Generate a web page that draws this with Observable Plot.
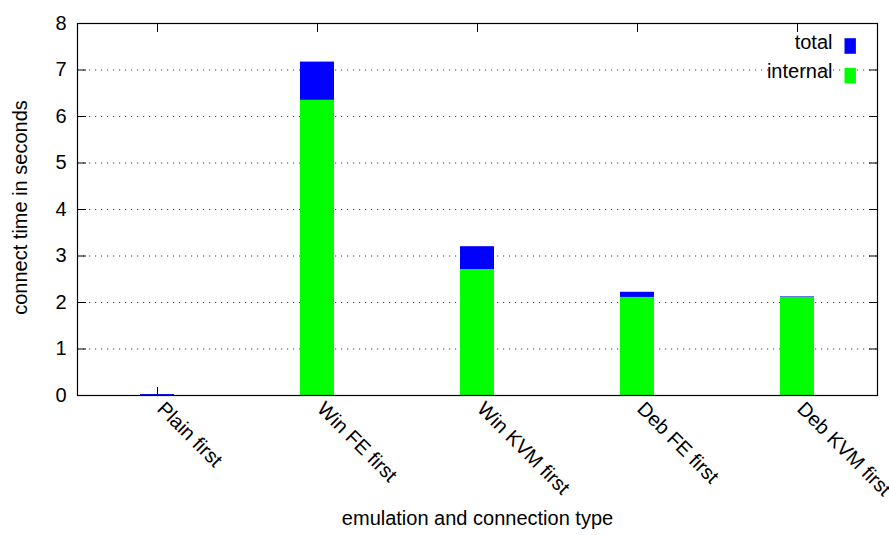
<!DOCTYPE html>
<html>
<head>
<meta charset="utf-8">
<script src="https://cdn.jsdelivr.net/npm/d3@7"></script>
<script src="https://cdn.jsdelivr.net/npm/@observablehq/plot@0.6"></script>
<style>
  html, body { margin: 0; padding: 0; background: #fff; }
  #chart svg { display: block; }
</style>
</head>
<body>
<div id="chart"></div>
<script>
// Connect times per emulation / connection type (seconds)
const categories = ["Plain first", "Win FE first", "Win KVM first", "Deb FE first", "Deb KVM first"];
const totalSeconds = [0.02, 7.17, 3.20, 2.22, 2.12];
const internalSeconds = [0.0, 6.35, 2.71, 2.11, 2.11];
const yTicks = [0, 1, 2, 3, 4, 5, 6, 7, 8];
const gridTicks = [1, 2, 3, 4, 5, 6, 7];
const seriesNames = ["total", "internal"];
const seriesColors = ["#0000ff", "#00ff00"];

const rows = categories.map((category, i) => ({
  category,
  total: totalSeconds[i],
  internal: internalSeconds[i]
}));

const fontSize = 20;

// small filled rectangle used as a legend key
const legendKey = {
  draw(context) {
    context.rect(-5.7, -7.8, 11.4, 15.6);
  }
};

const legendMarks = seriesNames.flatMap((name, i) => [
  Plot.text([name], {
    frameAnchor: "top-right",
    dx: -45,
    dy: 19 + i * 29.5,
    textAnchor: "end",
    lineAnchor: "middle",
    fill: "#000",
    fontSize
  }),
  Plot.dot([name], {
    frameAnchor: "top-right",
    dx: -27.3,
    dy: 22.5 + i * 29.7,
    symbol: legendKey,
    fill: seriesColors[i],
    stroke: "none"
  })
]);

const chart = Plot.plot({
  width: 889,
  height: 535,
  marginLeft: 77,
  marginRight: 12,
  marginTop: 23,
  marginBottom: 140,
  style: {
    fontFamily: "'Liberation Sans', Arial, Helvetica, sans-serif",
    fontSize: fontSize + "px",
    color: "#000",
    background: "#fff"
  },
  x: {
    type: "band",
    domain: categories,
    paddingInner: 0.79,
    paddingOuter: 0.395,
    align: 0.5,
    label: null,
    axis: null
  },
  y: {
    domain: [0, 8],
    label: null,
    axis: null
  },
  marks: [
    // dotted horizontal grid
    Plot.gridY(gridTicks, {
      stroke: "#000",
      strokeOpacity: 0.75,
      strokeWidth: 1,
      strokeDasharray: "1.2,4.8"
    }),
    // inward tick marks on all four sides
    Plot.axisY(yTicks, {anchor: "left", tickSize: -9, fill: "none", tickFormat: () => ""}),
    Plot.axisY(yTicks, {anchor: "right", tickSize: -9, fill: "none", tickFormat: () => ""}),
    Plot.axisX({anchor: "bottom", tickSize: -8, fill: "none", tickFormat: () => ""}),
    Plot.axisX({anchor: "top", tickSize: -8, fill: "none", tickFormat: () => ""}),
    // bars: total behind, internal in front
    Plot.barY(rows, {x: "category", y: "total", fill: seriesColors[0]}),
    Plot.barY(rows, {x: "category", y: "internal", fill: seriesColors[1]}),
    Plot.frame({stroke: "#000", strokeWidth: 1.2}),
    // tick labels
    Plot.axisY(yTicks, {anchor: "left", tickSize: 0, tickPadding: 11, fontSize}),
    Plot.axisX({anchor: "bottom", tickSize: 0, tickRotate: 45, tickPadding: 10, dx: 3, fontSize}),
    // axis titles
    Plot.text(["connect time in seconds"], {
      frameAnchor: "left",
      rotate: -90,
      textAnchor: "middle",
      lineAnchor: "middle",
      dx: -57,
      dy: -2,
      fontSize,
      fill: "#000"
    }),
    Plot.text(["emulation and connection type"], {
      frameAnchor: "bottom",
      textAnchor: "middle",
      lineAnchor: "bottom",
      dy: 129,
      fontSize,
      fill: "#000"
    }),
    ...legendMarks
  ]
});

document.getElementById("chart").append(chart);
</script>
</body>
</html>
